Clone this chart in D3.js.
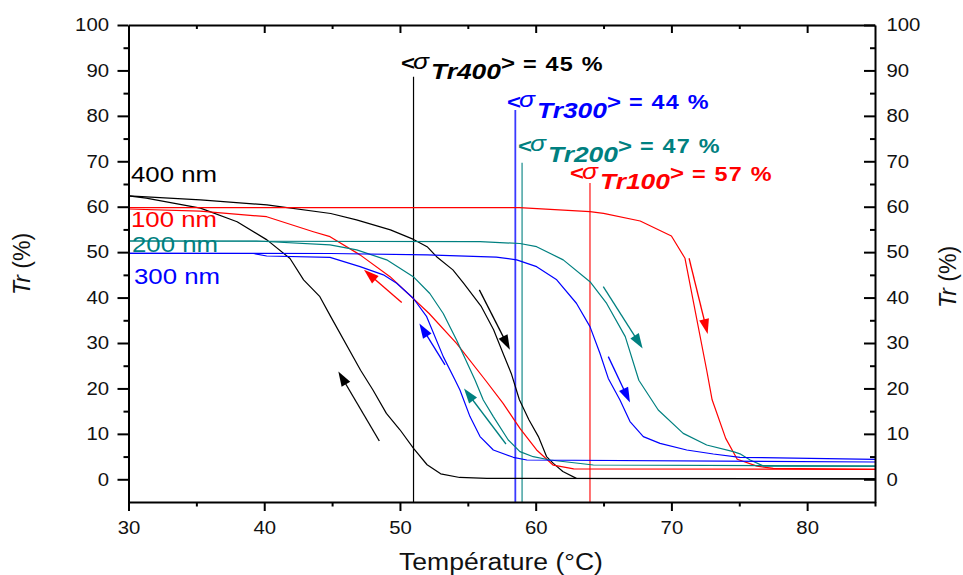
<!DOCTYPE html>
<html><head><meta charset="utf-8">
<script src="https://cdn.jsdelivr.net/npm/d3@7"></script>
<style>
body{margin:0;background:#fff}
text{font-family:Arial,"Liberation Sans",sans-serif}
</style>
</head><body>
<svg id="c" width="963" height="575"></svg>
<script>
// ---------- data ----------
const xTicks = [30, 40, 50, 60, 70, 80];
const xMinorTicks = [35, 45, 55, 65, 75, 85];
const yTicks = [0, 10, 20, 30, 40, 50, 60, 70, 80, 90, 100];
const yMinorTicks = [5, 15, 25, 35, 45, 55, 65, 75, 85, 95];

const heat400 = [[30,62.4],[35.3,61.5],[40.2,60.4],[44.9,58.5],[46.8,57.1],[49.3,54.9],[51.0,52.8],[52.0,51.2],[52.7,49.0],[53.9,46.1],[54.7,43.1],[56.0,38.0],[56.9,32.9],[57.6,27.7],[58.2,23.3],[58.8,17.5],[59.5,13.1],[60.2,9.4],[60.8,5.0],[61.3,3.5],[62.0,1.7],[63.0,0.2],[85,0.1]];
const cool400 = [[30,62.4],[31.3,61.9],[35.3,59.7],[38.0,56.7],[40.2,52.7],[41.9,48.6],[42.9,43.9],[44.1,40.2],[44.9,35.8],[47.1,24.0],[48.0,19.7],[49.0,14.5],[50.0,10.9],[51.0,6.8],[52.0,3.2],[53.0,1.2],[54.4,0.4],[56.4,0.2],[85,0.1]];

const heat100 = [[30,59.8],[58.8,59.8],[64.0,58.9],[65.0,58.55],[67.7,56.85],[70.0,53.55],[71.0,48.65],[72.6,24.0],[73.0,17.5],[74.0,9.0],[74.85,4.4],[76.3,2.9],[77.5,2.4],[85,2.2]];
const cool100 = [[85,2.2],[62.8,2.3],[61.3,3.1],[60.07,6.45],[58.84,11.2],[57.6,16.7],[56.3,21.8],[54.17,29.9],[52.15,36.5],[49.27,44.6],[47.06,49.4],[44.85,53.4],[43.62,54.5],[40.18,57.8],[35.27,59.05],[30,59.5]];

const heat200 = [[30,52.45],[55.9,52.3],[58.84,51.9],[60.07,51.2],[62.03,48.3],[64.0,43.5],[65.23,38.7],[66.6,31.4],[67.6,21.8],[69.03,15.25],[70.87,10.1],[72.6,7.55],[74.56,6.1],[75.05,5.6],[75.8,4.25],[76.8,2.9],[85,2.9]];
const cool200 = [[85,2.9],[64.25,3.15],[61.05,4.25],[59.82,4.97],[58.84,6.08],[57.98,8.65],[56.88,13.8],[56.14,17.45],[55.53,21.85],[54.17,30.65],[53.19,36.5],[52.2,40.9],[50.98,44.6],[49.02,48.3],[46.81,50.5],[44.85,51.6],[39.44,52.45],[30,52.45]];

const heat300 = [[30,49.75],[44.9,49.7],[52.0,49.4],[57.1,48.9],[58.6,48.3],[60.07,46.8],[61.55,43.9],[63.0,38.75],[64.0,33.6],[64.74,27.7],[65.35,22.2],[66.21,17.45],[66.95,12.7],[67.93,9.4],[69.16,7.9],[71.13,6.45],[73.09,5.57],[75.05,4.84],[85,4.4]];
const cool300 = [[85,3.8],[59.35,4.25],[58.35,4.84],[56.88,6.45],[55.9,9.4],[55.16,13.8],[54.42,19.65],[54.05,21.9],[53.19,27.0],[51.97,35.8],[50.98,39.85],[49.76,43.15],[48.78,45.0],[47.06,46.8],[44.85,48.85],[40.18,49.15],[39.2,49.7],[30,49.75]];

const sizeLabels = ["400 nm", "100 nm", "200 nm", "300 nm"];
const sigmaNames = ["Tr400", "Tr300", "Tr200", "Tr100"];
const sigmaValues = [45, 44, 47, 57];
const sigmaTemps = [51, 58.5, 59, 64];
const sigmaTops = [88.6, 81.3, 69.7, 65.2];

const arrowFrom = [[48.48,8.43],[55.85,41.7],[50.13,38.9],[53.32,25.2],[57.81,7.77],[64.98,42.4],[65.35,27.0],[71.3,48.65]];
const arrowTo   = [[45.46,23.75],[58.1,28.5],[47.35,46.1],[51.43,34.3],[54.72,20.0],[67.88,28.8],[66.95,16.9],[72.67,32.0]];
const arrowSeries = ["400","400","100","300","200","200","300","100"];

// ---------- styles ----------
const colors = {"400":"#000000","100":"#ff0000","200":"#008080","300":"#0000ff"};
const vlineColors = {"400":"#000000","300":"#3a3aff","200":"#63b1b1","100":"#ff6262"};
const curves = [
  {key:"400", d:heat400},{key:"400", d:cool400},
  {key:"100", d:heat100},{key:"100", d:cool100},
  {key:"200", d:heat200},{key:"200", d:cool200},
  {key:"300", d:heat300},{key:"300", d:cool300}
];
const sigmaKeys = ["400","300","200","100"];

const svg = d3.select("#c");
const L = 128.5, R = 875, T = 25, B = 502;
const x = d3.scaleLinear().domain([30, 85]).range([L, R]);
const y = d3.scaleLinear().domain([-5, 100]).range([B, T]);
const SX = 1.13;

function stretchTicks(g, sx){
  g.selectAll(".tick text").each(function(){
    const t = d3.select(this);
    const xv = +t.attr("x") || 0;
    t.attr("x", xv / sx).attr("transform", `scale(${sx},1)`);
  });
}
function styleAxis(g){
  g.select(".domain").attr("stroke","#000").attr("stroke-width",2);
  g.selectAll(".tick line").attr("stroke","#000").attr("stroke-width",2);
  g.selectAll(".tick text").attr("fill","#111").attr("font-size",18)
    .attr("font-family",'Arial,"Liberation Sans",sans-serif');
}

// clip
svg.append("defs").append("clipPath").attr("id","plot")
  .append("rect").attr("x",L).attr("y",T).attr("width",R-L).attr("height",B-T);

// vertical sigma lines
const vg = svg.append("g").attr("clip-path","url(#plot)");
sigmaTemps.forEach((t,i)=>{
  vg.append("line")
    .attr("x1",x(t)).attr("x2",x(t)).attr("y1",y(-5)).attr("y2",y(sigmaTops[i]))
    .attr("stroke",vlineColors[sigmaKeys[i]]).attr("stroke-width",i===0?1.2:1.8);
});

// curves
const line = d3.line().x(d=>x(d[0])).y(d=>y(d[1]));
const cg = svg.append("g").attr("clip-path","url(#plot)");
curves.forEach(c=>{
  cg.append("path").attr("d",line(c.d)).attr("fill","none")
    .attr("stroke",colors[c.key]).attr("stroke-width",1.2).attr("stroke-linejoin","round");
});

// arrows
const ag = svg.append("g");
arrowFrom.forEach((f,i)=>{
  const col = colors[arrowSeries[i]];
  const x1 = x(f[0]), y1 = y(f[1]), x2 = x(arrowTo[i][0]), y2 = y(arrowTo[i][1]);
  const ang = Math.atan2(y2-y1, x2-x1);
  const hl = 15, hw = 5;
  const bx = x2 - hl*Math.cos(ang), by = y2 - hl*Math.sin(ang);
  ag.append("line").attr("x1",x1).attr("y1",y1).attr("x2",bx+3*Math.cos(ang)).attr("y2",by+3*Math.sin(ang))
    .attr("stroke",col).attr("stroke-width",1.3);
  const p1 = [bx + hw*Math.sin(ang), by - hw*Math.cos(ang)];
  const p2 = [bx - hw*Math.sin(ang), by + hw*Math.cos(ang)];
  ag.append("path").attr("d",`M${x2},${y2}L${p1[0]},${p1[1]}L${p2[0]},${p2[1]}Z`).attr("fill",col);
});

// axes
const gl = svg.append("g").attr("transform",`translate(${L},0)`)
  .call(d3.axisLeft(y).tickValues(yTicks).tickSizeInner(11).tickSizeOuter(0).tickPadding(8.5));
styleAxis(gl); stretchTicks(gl, SX);
const glm = svg.append("g").attr("transform",`translate(${L},0)`)
  .call(d3.axisLeft(y).tickValues(yMinorTicks).tickSize(5).tickFormat(""));
styleAxis(glm); glm.select(".domain").remove();

const gr = svg.append("g").attr("transform",`translate(${R},0)`)
  .call(d3.axisRight(y).tickValues(yTicks).tickSizeInner(-11).tickSizeOuter(0).tickPadding(11.5));
styleAxis(gr); stretchTicks(gr, SX);
const grm = svg.append("g").attr("transform",`translate(${R},0)`)
  .call(d3.axisRight(y).tickValues(yMinorTicks).tickSize(-5).tickFormat(""));
styleAxis(grm); grm.select(".domain").remove();

const gb = svg.append("g").attr("transform",`translate(0,${B})`)
  .call(d3.axisBottom(x).tickValues(xTicks).tickSizeInner(9).tickSizeOuter(0).tickPadding(10));
styleAxis(gb); stretchTicks(gb, SX);
const gbm = svg.append("g").attr("transform",`translate(0,${B})`)
  .call(d3.axisBottom(x).tickValues(xMinorTicks).tickSize(4.5).tickFormat(""));
styleAxis(gbm); gbm.select(".domain").remove();

const gt = svg.append("g").attr("transform",`translate(0,${T})`)
  .call(d3.axisTop(x).tickValues(xTicks.filter(v=>v>30)).tickSizeInner(-8).tickSizeOuter(0).tickFormat(""));
styleAxis(gt);
const gtm = svg.append("g").attr("transform",`translate(0,${T})`)
  .call(d3.axisTop(x).tickValues(xMinorTicks.filter(v=>v<85)).tickSize(-4).tickFormat(""));
styleAxis(gtm); gtm.select(".domain").remove();

// axis titles
svg.append("text").attr("transform",`translate(501,570) scale(1.13,1)`)
  .attr("text-anchor","middle").attr("font-size",23.5).attr("fill","#111")
  .text("Température (°C)");
function yTitle(px, py){
  const t = svg.append("text").attr("transform",`translate(${px},${py}) scale(1.05,1) rotate(-90)`)
    .attr("text-anchor","middle").attr("font-size",23).attr("fill","#111");
  t.append("tspan").attr("font-style","italic").text("Tr");
  t.append("tspan").text(" (%)");
}
yTitle(30, 264);
yTitle(956, 277);

// size labels
const labelPos = [[131,181.5],[131,226.5],[132,251.5],[134,284]];
const labelKeys = ["400","100","200","300"];
sizeLabels.forEach((s,i)=>{
  svg.append("text").attr("transform",`translate(${labelPos[i][0]},${labelPos[i][1]}) scale(1.2,1)`)
    .attr("font-size",21.5).attr("fill",colors[labelKeys[i]]).text(s);
});

// sigma annotations (one text element each, stretched horizontally)
const annPos = [[401,70],[507,108.5],[518,152.5],[570,180]];
const AS = 1.2;
sigmaNames.forEach((n,i)=>{
  const [ax, ay] = annPos[i];
  const col = colors[sigmaKeys[i]];
  const t = svg.append("text").attr("transform",`translate(${ax},${ay}) scale(${AS},1)`)
    .attr("fill",col).attr("font-weight","bold").attr("font-size",20);
  t.append("tspan").attr("x",0).attr("y",0).text("<");
  t.append("tspan").attr("x",12/AS).attr("y",-1.5).attr("font-size",22)
    .attr("font-style","italic").attr("font-weight","normal").text("σ");
  t.append("tspan").attr("x",30/AS).attr("y",9).attr("font-size",22).attr("font-style","italic").text(n);
  t.append("tspan").attr("x",100/AS).attr("y",0).text(">");
  t.append("tspan").attr("x",122/AS).attr("y",0.5).attr("font-size",19.5)
    .attr("letter-spacing",1).text(`= ${sigmaValues[i]} %`);
});
</script>
</body></html>
